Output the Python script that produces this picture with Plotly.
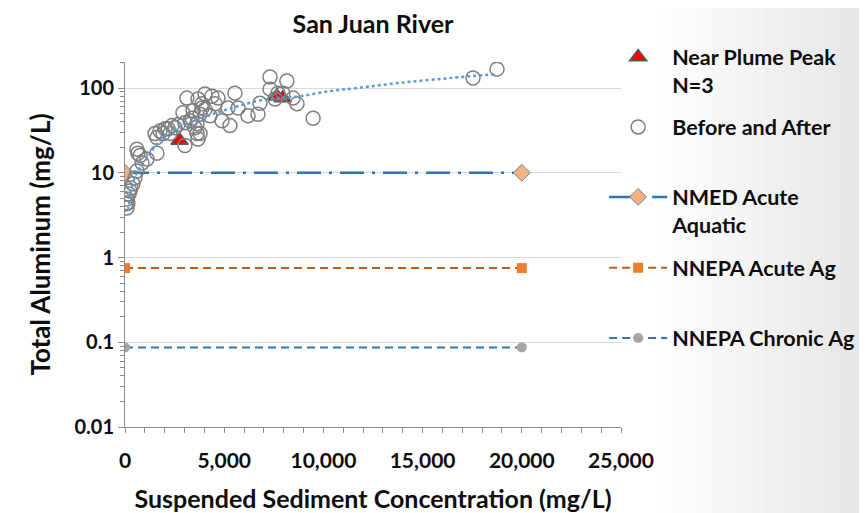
import plotly.graph_objects as go

# ---------------- data ----------------
ssc_before = [100, 50, 150, 100, 200, 250, 300, 400, 500, 600,
              600, 650, 760, 860, 1110, 1610, 1610, 1760, 1920, 2020,
              2270, 2370, 2520, 2670, 2920, 3020, 3020, 3120, 3380, 3630,
              3630, 3680, 3530, 3780, 3680, 3880, 4030, 4030, 3780, 3880,
              4280, 4380, 4690, 4890, 5190, 5290, 5540, 5700, 6200, 6700,
              6800, 7310, 7310, 7710, 7960, 8160, 8470, 8670, 9480, 17540,
              18750, 7560, 3280, 3430, 4540, 1510, 2170]
al_before = [3.84, 4.3, 4.4, 4.9, 5.6, 6.1, 6.6, 7.4, 8.7, 10.5,
             19, 17, 16, 13, 14.5, 17, 26, 31, 29, 33,
             29, 36, 34, 37, 51, 39, 21, 76, 44, 38,
             29, 25, 34, 29, 74, 65, 85, 56, 49, 58,
             47, 80, 76, 41, 58, 36, 87, 58, 47, 49,
             66, 135, 97, 87, 87, 121, 76, 65, 44, 131,
             167, 74, 41, 54, 65, 29, 33]

ssc_peak = [2750, 7650, 7950]
al_peak = [24, 80, 76]

trend_ssc = [150, 250, 350, 650, 1110, 1610, 2370, 3280, 4180, 4940,
             6650, 7660, 8820, 10330, 11690, 13860, 16380, 18750]
trend_al = [3.6, 5.0, 7.0, 10.5, 14.9, 21.8, 31, 39, 47, 54,
            70, 76, 80, 92, 100, 115, 131, 146]

std_ssc = [0, 20000]
nmed_acute = [10, 10]
nnepa_acute = [0.75, 0.75]
nnepa_chronic = [0.087, 0.087]

y_tick_vals = [0.01, 0.1, 1, 10, 100]
y_tick_text = ["0.01", "0.1", "1", "10", "100"]
x_tick_vals = [0, 5000, 10000, 15000, 20000, 25000]

FONT = "Lato"
TXT = "#0d0d0d"

fig = go.Figure()

# thresholds
fig.add_trace(go.Scatter(
    x=std_ssc, y=nmed_acute, mode="lines+markers", name="NMED Acute<br>Aquatic",
    line=dict(color="#2e75b6", width=2.5, dash="24px,8px,3px,8px"),
    marker=dict(symbol="diamond", size=13, color="#f4b183", line=dict(color="#7f7f7f", width=1)),
    legend="legend3"))
fig.add_trace(go.Scatter(
    x=std_ssc, y=nnepa_acute, mode="lines+markers", name="NNEPA Acute Ag",
    line=dict(color="#c55a11", width=2, dash="8px,5px"),
    marker=dict(symbol="square", size=10, color="#ed7d31"),
    legend="legend4"))
fig.add_trace(go.Scatter(
    x=std_ssc, y=nnepa_chronic, mode="lines+markers", name="NNEPA Chronic Ag",
    line=dict(color="#2e75b6", width=2, dash="8px,5px"),
    marker=dict(symbol="circle", size=10, color="#a5a5a5"),
    legend="legend5"))

# peak triangles
fig.add_trace(go.Scatter(
    x=ssc_peak, y=al_peak, mode="markers", name="Near Plume Peak<br>N=3",
    marker=dict(symbol="triangle-up", size=15, color="#ff0000", line=dict(color="#595959", width=1.5)),
    legend="legend"))
# before / after
fig.add_trace(go.Scatter(
    x=ssc_before, y=al_before, mode="markers", name="Before and After",
    marker=dict(symbol="circle-open", size=14, color="#7f7f7f", line=dict(width=1.5)),
    legend="legend2"))
# trendline
fig.add_trace(go.Scatter(
    x=trend_ssc, y=trend_al, mode="lines", showlegend=False, line_shape="spline",
    line=dict(color="#5b9bd5", width=2.5, dash="dot"), hoverinfo="skip"))

# background gradient on the right side (slide background)
shapes = []
n = 24
x0p, x1p = 660, 868
for i in range(n):
    a = x0p + (x1p - x0p) * i / n
    b = x0p + (x1p - x0p) * (i + 1) / n + 1
    t = (i + 0.5) / n
    g = int(round(255 - 26 * t))
    shapes.append(dict(type="rect", xref="paper", yref="paper",
                       x0=(a - 125) / 496, x1=(b - 125) / 496, y0=-0.3, y1=1.25,
                       fillcolor=f"rgb({g},{g},{g})", line=dict(width=0), layer="below"))

legend_common = dict(bgcolor="rgba(0,0,0,0)", font=dict(family=FONT, size=21.5, color=TXT, weight="bold"),
                     xanchor="left", yanchor="middle", itemwidth=58, valign="top")
lx = 0.966

fig.update_layout(
    width=859, height=505,
    margin=dict(l=117, r=246, t=54, b=86, autoexpand=False),
    paper_bgcolor="white", plot_bgcolor="rgba(0,0,0,0)",
    shapes=shapes,
    title=dict(text="San Juan River", x=0.5, xref="paper", y=0.967, yanchor="middle",
               font=dict(family=FONT, size=25, color=TXT, weight="bold")),
    legend=dict(x=lx, y=0.975, **legend_common),
    legend2=dict(x=lx, y=0.822, **legend_common),
    legend3=dict(x=lx, y=0.592, **legend_common),
    legend4=dict(x=lx, y=0.436, **legend_common),
    legend5=dict(x=lx, y=0.244, **legend_common),
    xaxis=dict(range=[0, 25000], tickvals=x_tick_vals, tickformat=",", showgrid=False, zeroline=False,
               showline=True, linecolor="#8c8c8c", linewidth=1, ticks="outside", ticklen=5,
               tickcolor="#8c8c8c", ticklabelstandoff=10,
               minor=dict(dtick=1000, ticks="outside", ticklen=5, tickcolor="#8c8c8c", showgrid=False),
               tickfont=dict(family=FONT, size=21, color=TXT, weight="bold"),
               title=dict(text="Suspended Sediment Concentration (mg/L)", standoff=26,
                          font=dict(family=FONT, size=25, color=TXT, weight="bold"))),
    yaxis=dict(type="log", range=[-2, 2.307], tickvals=y_tick_vals, ticktext=y_tick_text,
               showgrid=True, gridcolor="#d9d9d9", gridwidth=1.3, zeroline=False,
               showline=True, linecolor="#8c8c8c", linewidth=1, ticks="outside", ticklen=6,
               tickcolor="#8c8c8c",
               minor=dict(tickvals=[m * 10 ** e for e in range(-2, 3) for m in range(2, 10)],
                          ticks="outside", ticklen=4, tickcolor="#8c8c8c", showgrid=False),
               tickfont=dict(family=FONT, size=20, color=TXT, weight="bold"),
               title=dict(text="Total Aluminum (mg/L)", standoff=16,
                          font=dict(family=FONT, size=26, color=TXT, weight="bold"))),
)

fig.write_html("out.html")
